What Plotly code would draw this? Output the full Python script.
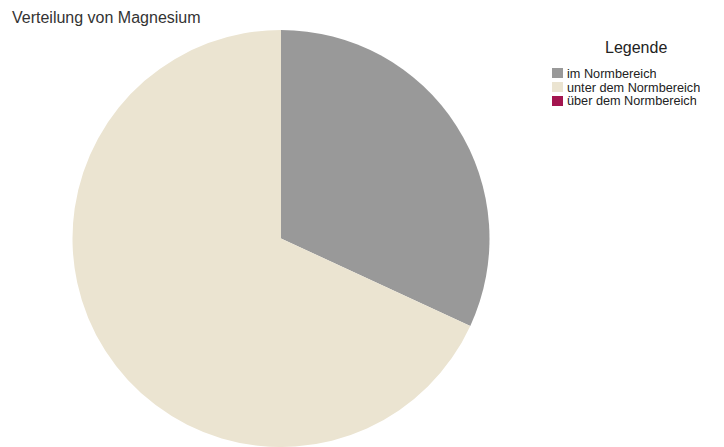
import plotly.graph_objects as go

# Magnesium distribution by reference range
labels = ["im Normbereich", "unter dem Normbereich", "über dem Normbereich"]
values = [22, 47, 0]
colors = ["#999999", "#ebe4d1", "#a3154f"]

W, H = 724, 447
FONT = "Liberation Sans, Arial, sans-serif"

fig = go.Figure(
    go.Pie(
        labels=labels,
        values=values,
        marker=dict(colors=colors, line=dict(width=0)),
        sort=False,
        direction="clockwise",
        rotation=0,
        textinfo="none",
        hoverinfo="label+value+percent",
        showlegend=False,
        domain=dict(x=[72 / W, 490 / W], y=[0.0, (H - 30) / H]),
    )
)

# legend drawn as boxes + labels, one row per category
shapes = []
annotations = [
    dict(text="Verteilung von Magnesium", x=10 / W, y=1 - 18 / H, xref="paper", yref="paper",
         xanchor="left", yanchor="middle", showarrow=False,
         font=dict(family=FONT, size=16, color="#333333")),
    dict(text="Legende", x=636 / W, y=1 - 48 / H, xref="paper", yref="paper",
         xanchor="center", yanchor="middle", showarrow=False,
         font=dict(family=FONT, size=16, color="#222222")),
]
row0, step = 73, 14
for i, (lab, col) in enumerate(zip(labels, colors)):
    cy = row0 + i * step
    shapes.append(dict(type="rect", xref="paper", yref="paper",
                       x0=552 / W, x1=563 / W, y0=1 - (cy - 5) / H, y1=1 - (cy + 5) / H,
                       fillcolor=col, line=dict(width=0)))
    annotations.append(dict(text=lab, x=566 / W, y=1 - cy / H, xref="paper", yref="paper",
                            xanchor="left", yanchor="middle", showarrow=False,
                            height=13, borderpad=0,
                            font=dict(family=FONT, size=12.7, color="#222222")))

fig.update_layout(
    width=W, height=H,
    margin=dict(l=0, r=0, t=0, b=0),
    paper_bgcolor="white",
    plot_bgcolor="white",
    shapes=shapes,
    annotations=annotations,
)

fig.write_html("out.html")
